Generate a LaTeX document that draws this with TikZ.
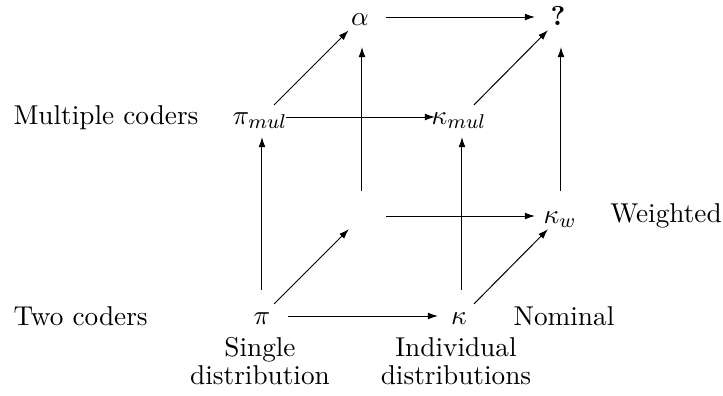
\documentclass[tikz,border=0pt]{standalone}
\usetikzlibrary{arrows.meta}
\begin{document}
\begin{tikzpicture}[x=0.4pt,y=-0.4pt,
  every node/.style={font=\fontsize{10.9}{11.2}\selectfont},
  lab/.style={inner sep=0pt,anchor=base},
  side/.style={inner sep=0pt,anchor=base west},
  under/.style={inner sep=0pt,anchor=base,align=center},
  arr/.style={line width=0.4pt,-{Latex[length=4pt,width=2.7pt]}}]
\path[use as bounding box] (0,0) rectangle (723,395);
% grid points
\coordinate (P)  at (262,316);
\coordinate (K)  at (462,316);
\coordinate (E)  at (362,216);
\coordinate (Kw) at (561,216);
\coordinate (Pm) at (262,117);
\coordinate (Km) at (462,117);
\coordinate (A)  at (362,17);
\coordinate (Q)  at (561,17);
% math labels
\node[lab] (pi)    at (262,324) {$\pi$};
\node[lab] (kappa) at (459,324) {$\kappa$};
\node[lab] (kw)    at (560,223) {$\kappa_w$};
\node[lab] (pimul) at (260,124) {$\pi_{mul}$};
\node[lab] (kmul)  at (459,124) {$\kappa_{mul}$};
\node[lab] (alpha) at (360,25)  {$\alpha$};
\node[lab] (qm)    at (558,25)  {\textbf{?}};
% side labels
\node[side] (multi) at (13,124) {Multiple coders};
\node[side] (two)   at (13,325) {Two coders};
\node[lab]  (wt)    at (666,222) {Weighted};
\node[lab]  (nom)   at (564,325) {Nominal};
\node[under] (single) at (260,384) {Single\\distribution};
\node[under] (indiv)  at (456,384) {Individual\\distributions};
% arrows
\draw[arr,shorten <=10.4pt,shorten >=9.6pt] (P) -- (K);
\draw[arr,shorten <=6.8pt,shorten >=7.4pt] (P) -- (E);
\draw[arr,shorten <=6.8pt,shorten >=7.4pt] (K) -- (Kw);
\draw[arr,shorten <=9.6pt,shorten >=10.4pt] (E) -- (Kw);
\draw[arr,shorten <=10.4pt,shorten >=8pt] (P) -- (Pm);
\draw[arr,shorten <=10.4pt,shorten >=8pt] (K) -- (Km);
\draw[arr,shorten <=10pt,shorten >=12pt] (E) -- (A);
\draw[arr,shorten <=10pt,shorten >=12pt] (Kw) -- (Q);
\draw[arr,shorten <=6.8pt,shorten >=7.6pt] (Pm) -- (A);
\draw[arr,shorten <=6.8pt,shorten >=7.4pt] (Km) -- (Q);
\draw[arr,shorten <=9.6pt,shorten >=10.8pt] (Pm) -- (Km);
\draw[arr,shorten <=9.6pt,shorten >=10.4pt] (A) -- (Q);
\end{tikzpicture}
\end{document}
